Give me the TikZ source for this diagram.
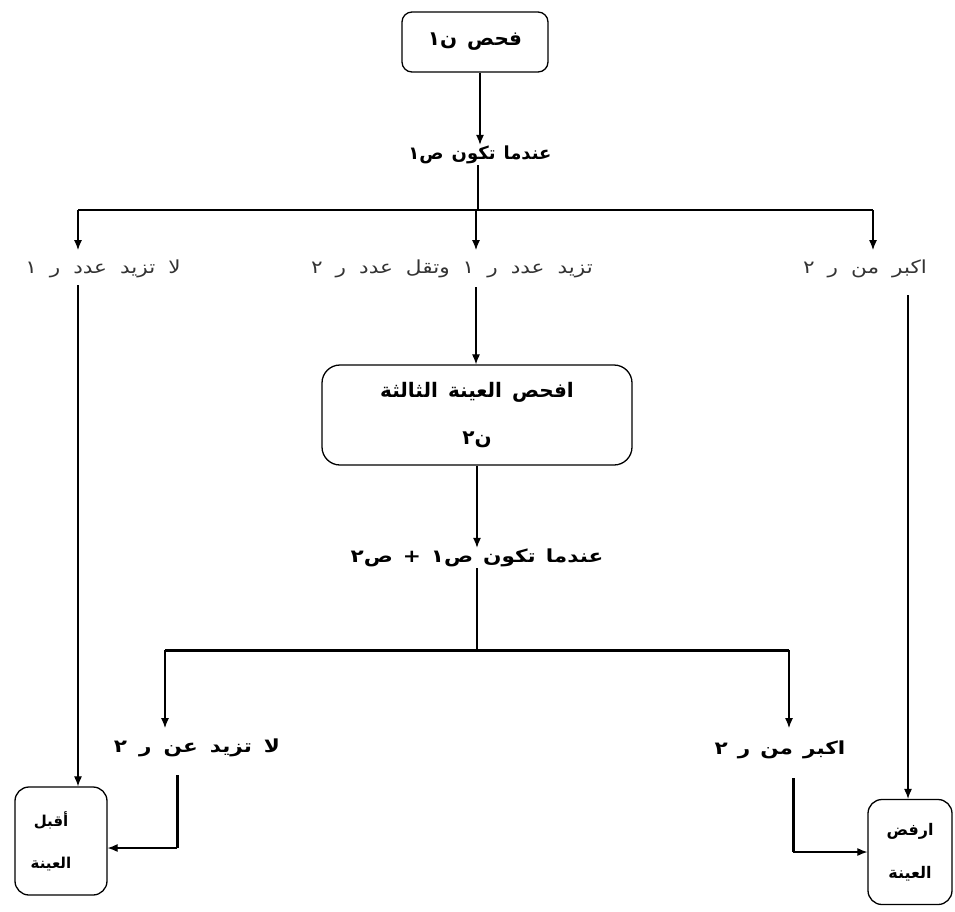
\documentclass[tikz,border=0pt]{standalone}
\usepackage{fontspec}
\usetikzlibrary{arrows.meta}
\TeXXeTstate=1
\newfontfamily\ar[Script=Arabic]{DejaVu Sans}
\newfontfamily\arw[Script=Arabic,FakeStretch=1.2]{DejaVu Sans}
\newcommand{\AR}[1]{\beginR #1\endR}
\newcommand{\wsp}[1]{\spaceskip=#1pt plus 1pt\relax}
\tikzset{
  box/.style={draw, line width=1.3pt, rounded corners=10pt, align=center, inner sep=0pt},
  lbl/.style={font=\arw\fontsize{18}{22}\selectfont\wsp{13}, text=black!80, inner sep=1pt},
  blbl/.style={font=\arw\bfseries\fontsize{18}{22}\selectfont\wsp{10}, inner sep=1pt},
  conn/.style={line width=1.1pt},
  arr/.style={line width=1.1pt, -{Latex[length=10pt,width=8pt]}},
  thick bar/.style={line width=3pt},
}
\begin{document}
\begin{tikzpicture}[x=1pt,y=-1pt]
\useasboundingbox (0,0) rectangle (955,911);
% top box
\node[box, minimum width=146pt, minimum height=60pt, font=\ar\bfseries\fontsize{20}{24}\selectfont\wsp{10}] (n1) at (475,42) {\AR{فحص ن١}};
\node[blbl, font=\ar\bfseries\fontsize{18}{22}\selectfont\wsp{8}] (c1) at (480,155) {\AR{عندما تكون ص١}};
\draw[arr] (n1.south -| c1.north) -- (c1.north);
% first split
\coordinate (h1m) at (478,210);
\coordinate (h1l) at (78,210);
\coordinate (h1r) at (873,210);
\draw[conn] (c1.south -| h1m) -- (h1m);
\draw[line width=1.8pt] (h1l) -- (h1r);
\node[lbl] (t1) at (103,269) {\AR{لا تزيد عدد ر ١}};
\node[lbl] (t2) at (452,269) {\AR{تزيد عدد ر ١ وتقل عدد ر ٢}};
\node[lbl] (t3) at (865,269) {\AR{اكبر من ر ٢}};
\coordinate (a1) at (78,250);
\coordinate (a2) at (476,250);
\coordinate (a3) at (873,250);
\draw[arr] (h1l) -- (a1);
\draw[arr] (h1r) -- (a3);
\draw[arr] (h1l -| a2) -- (a2);
% middle box
\node[box, rounded corners=18pt, minimum width=310pt, minimum height=100pt, font=\ar\bfseries\fontsize{20}{47}\selectfont\wsp{10}] (m) at (477,415) {\AR{افحص العينة الثالثة}\\ \AR{ن٢}};
\coordinate (t2s) at (476,287);
\draw[arr] (t2s) -- (m.north -| t2s);
\node[blbl] (c2) at (477,558) {\AR{عندما تكون ص١ + ص٢}};
\draw[arr] (m.south -| c2.north) -- (c2.north);
% second split
\coordinate (h2m) at (477,650);
\coordinate (h2l) at (165,650);
\coordinate (h2r) at (789,650);
\draw[conn] (c2.south -| h2m) -- (h2m);
\draw[thick bar] (h2l) -- (h2r);
\node[blbl, font=\arw\bfseries\fontsize{18}{22}\selectfont\wsp{12}] (b1) at (197,748) {\AR{لا تزيد عن ر ٢}};
\node[blbl] (b2) at (780,750) {\AR{اكبر من ر ٢}};
\coordinate (d1) at (165,728);
\coordinate (d2) at (789,728);
\draw[arr] (h2l) -- (d1);
\draw[arr] (h2r) -- (d2);
% result boxes
\node[box, rounded corners=14pt, minimum width=92pt, minimum height=108pt, font=\ar\bfseries\fontsize{15}{42}\selectfont] (acc) at (61,841) {\AR{أقبل}\hspace*{20pt}\\ \AR{العينة}\hspace*{20pt}};
\node[box, rounded corners=14pt, minimum width=84pt, minimum height=105pt, font=\ar\bfseries\fontsize{16}{43}\selectfont] (rej) at (910,852) {\AR{ارفض}\\ \AR{العينة}};
% long verticals
\coordinate (v1) at (78,285);
\coordinate (v3) at (908,295);
\draw[arr] (v1) -- (acc.north -| v1);
\draw[arr] (v3) -- (rej.north -| v3);
% stubs
\coordinate (s1t) at (177,775);
\coordinate (s1b) at (177,848);
\coordinate (s2t) at (793,778);
\coordinate (s2b) at (793,852);
\draw[thick bar] (s1t) -- (s1b);
\draw[thick bar] (s2t) -- (s2b);
\draw[arr] (s1b) -- (s1b -| acc.east);
\draw[arr] (s2b) -- (s2b -| rej.west);
\end{tikzpicture}
\end{document}
